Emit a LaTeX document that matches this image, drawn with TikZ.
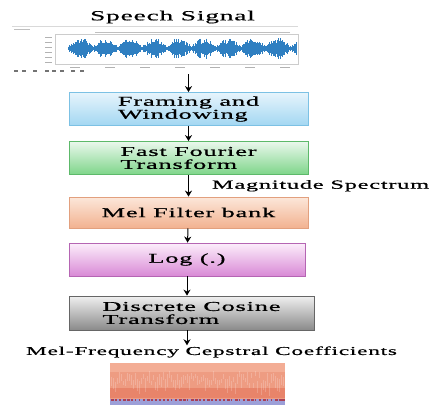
\documentclass[tikz,border=0pt]{standalone}
\usepackage{fontspec}
\setmainfont{Liberation Serif}[FakeStretch=1.95,LetterSpace=6,FakeBold=0.7]
\usetikzlibrary{arrows.meta}

\definecolor{wavecol}{HTML}{2F7FC1}
\definecolor{frametop}{HTML}{E6F4FC}
\definecolor{framebot}{HTML}{A3D7F2}
\definecolor{framedraw}{HTML}{7CC1E4}
\definecolor{ffttop}{HTML}{EAF8EC}
\definecolor{fftbot}{HTML}{7ED58A}
\definecolor{fftdraw}{HTML}{5DB96A}
\definecolor{meltop}{HTML}{FCE7DA}
\definecolor{melbot}{HTML}{F2B290}
\definecolor{meldraw}{HTML}{E2A07E}
\definecolor{logtop}{HTML}{FCEEFB}
\definecolor{logbot}{HTML}{D98AD6}
\definecolor{logdraw}{HTML}{B565B3}
\definecolor{dcttop}{HTML}{F0F0F0}
\definecolor{dctbot}{HTML}{8A8A8A}
\definecolor{dctdraw}{HTML}{666666}
\definecolor{specbase}{HTML}{EE9C82}
\definecolor{spectop}{HTML}{F3AD95}
\definecolor{specband}{HTML}{E8846A}
\definecolor{specblue}{HTML}{9C9FD8}

\tikzset{
  stage/.style={draw, line width=0.8pt, minimum width=239pt, minimum height=33pt,
    align=left, inner sep=2pt, font=\fontsize{13.5}{13}\selectfont},
  flow/.style={-{Stealth[length=6pt,width=7pt]}, line width=1pt},
  caption/.style={font=\fontsize{13.5}{13}\selectfont, inner sep=1pt},
}

\begin{document}
\begin{tikzpicture}[x=1pt, y=-1pt]
    \useasboundingbox (0,0) rectangle (445,405);

    % speech signal
    \node[caption, font=\fontsize{14}{14}\selectfont] (sig) at (172.5,17) {Speech Signal};

    % waveform window
    \draw[black!15, line width=0.6pt] (12,26) -- (298,26);
    \draw[black!25, line width=0.8pt] (14,29) -- (30,29);
    \draw[black!20, line width=0.5pt] (55,34) rectangle (298,64);
    \draw[black!25, line width=0.8pt] (95,32) -- (290,32);
    \foreach \ty in {37,42,47,52,57,62}
        \draw[black!30, line width=0.8pt] (45,\ty) -- (52,\ty);
    \foreach \tx in {75,110,145,180,215,250,285}
        \draw[black!30, line width=0.8pt] (\tx-5,67) -- (\tx+5,67);
    \foreach \tx in {14,22,33,45,52,60,71,80}
        \fill[black!55] (\tx,69.5) rectangle ++(4,2.5);
    \pgfmathsetseed{11}
    \foreach \i in {0,...,228} {
        \pgfmathsetmacro{\amp}{(5+6*rnd)*(0.2+0.8*abs(sin(\i*7.3)))}
        \draw[wavecol, line width=1pt] (68+\i,48.5-\amp) -- (68+\i,48.5+\amp);
    }
    \coordinate (wave) at (188.5,74);

    % stages
    \node[stage, top color=frametop, bottom color=framebot, draw=framedraw]
        (frame) at (188.5,109) {Framing and\\Windowing};
    \node[stage, top color=ffttop, bottom color=fftbot, draw=fftdraw]
        (fft) at (188.5,158) {Fast Fourier\\Transform};
    \node[stage, top color=meltop, bottom color=melbot, draw=meldraw, minimum height=31pt]
        (mel) at (188.5,212.5) {Mel Filter bank};
    \node[stage, top color=logtop, bottom color=logbot, draw=logdraw, minimum width=236pt]
        (log) at (187,259.5) {Log (.)};
    \node[stage, top color=dcttop, bottom color=dctbot, draw=dctdraw, minimum width=245pt, minimum height=34pt]
        (dct) at (191.5,313) {Discrete Cosine\\Transform};

    % output
    \node[caption, font=\fontsize{12}{12}\selectfont] (mfcc) at (211.5,352) {Mel-Frequency Cepstral Coefficients};

    % arrows
    \draw[flow] (wave) -- (frame.north);
    \draw[flow] (frame) -- (fft);
    \draw[flow] (fft) -- (mel) node[midway, right=22pt, caption, font=\fontsize{12.5}{12.5}\selectfont] {Magnitude Spectrum};
    \draw[flow] (mel) -- (log);
    \draw[flow] (log.south) -- (log.south |- dct.north);
    \draw[flow] (dct.south -| log.south) -- (mfcc.north -| log.south);

    % cepstral coefficient map
    \fill[specbase] (110,363) rectangle (285,405);
    \fill[spectop] (110,363) rectangle (285,372);
    \fill[specband] (110,388) rectangle (285,398);
    \foreach \i in {0,...,86} {
        \pgfmathsetmacro{\top}{371+12*rnd}
        \pgfmathsetmacro{\len}{4+10*rnd}
        \draw[white, opacity=0.2, line width=0.7pt] (111+2*\i,\top) -- (111+2*\i,\top+\len);
    }
    \fill[specblue] (110,399) rectangle (285,405);
    \foreach \i in {0,...,43} {
        \pgfmathsetmacro{\w}{1+2.5*rnd}
        \fill[red!70!black, opacity=0.6] (111+4*\i,399) rectangle ++(\w,2);
    }
\end{tikzpicture}
\end{document}
